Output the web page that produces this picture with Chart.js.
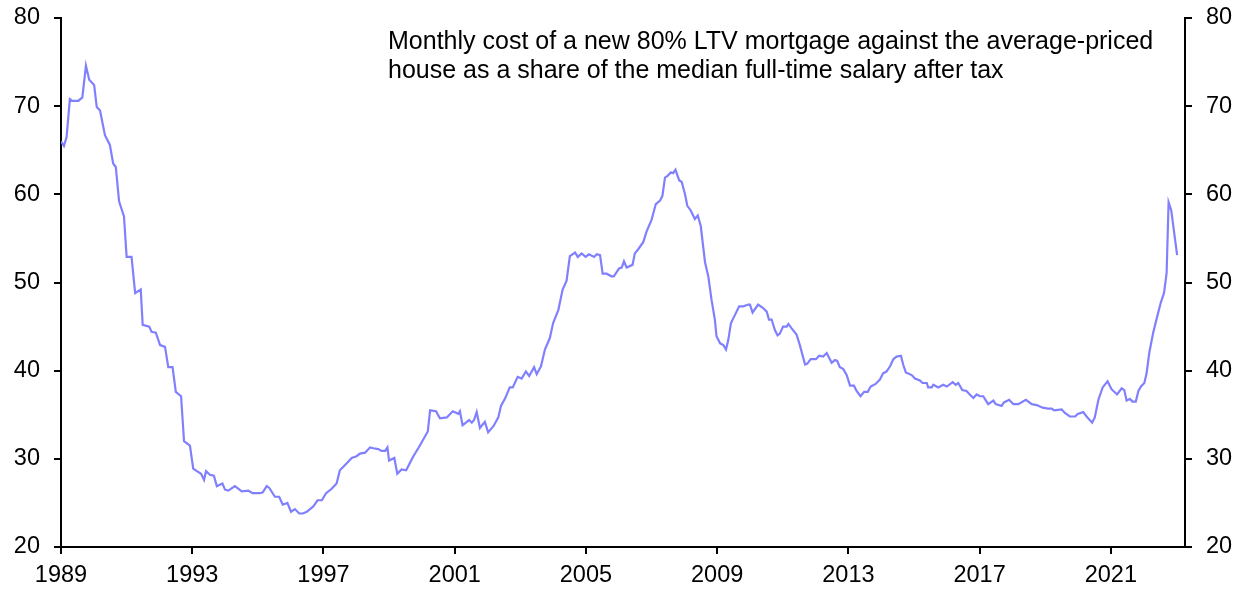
<!DOCTYPE html>
<html>
<head>
<meta charset="utf-8">
<script src="https://cdn.jsdelivr.net/npm/chart.js@4.4.1/dist/chart.umd.min.js"></script>
<style>
  html, body { margin: 0; padding: 0; background: #fff; }
  #wrap { width: 1241px; height: 591px; position: relative; }
</style>
</head>
<body>
<div id="wrap"><canvas id="mortChart"></canvas></div>
<script>
    // values (decimal year, % of salary)
    const years = [
        1989.00, 1989.09, 1989.17, 1989.27, 1989.34, 1989.53, 1989.65, 1989.76, 1989.86, 1990.01,
        1990.09, 1990.19, 1990.34, 1990.49, 1990.59, 1990.67, 1990.77, 1990.92, 1991.00, 1991.15,
        1991.26, 1991.43, 1991.49, 1991.69, 1991.76, 1991.89, 1992.02, 1992.17, 1992.27, 1992.40,
        1992.50, 1992.66, 1992.75, 1992.93, 1993.03, 1993.14, 1993.27, 1993.36, 1993.42, 1993.54,
        1993.66, 1993.75, 1993.92, 1994.00, 1994.10, 1994.30, 1994.51, 1994.71, 1994.84, 1995.07,
        1995.15, 1995.27, 1995.35, 1995.52, 1995.65, 1995.76, 1995.90, 1996.01, 1996.13, 1996.26,
        1996.37, 1996.49, 1996.69, 1996.82, 1996.95, 1997.08, 1997.25, 1997.40, 1997.50, 1997.71,
        1997.86, 1998.01, 1998.11, 1998.27, 1998.42, 1998.52, 1998.67, 1998.77, 1998.88, 1998.95,
        1999.00, 1999.16, 1999.25, 1999.38, 1999.52, 1999.74, 1999.89, 2000.18, 2000.25, 2000.43,
        2000.55, 2000.76, 2000.94, 2001.11, 2001.16, 2001.24, 2001.44, 2001.52, 2001.59, 2001.67,
        2001.77, 2001.92, 2002.02, 2002.18, 2002.33, 2002.41, 2002.53, 2002.68, 2002.77, 2002.92,
        2003.04, 2003.17, 2003.27, 2003.42, 2003.50, 2003.63, 2003.75, 2003.90, 2004.00, 2004.16,
        2004.29, 2004.41, 2004.51, 2004.67, 2004.75, 2004.87, 2004.99, 2005.09, 2005.25, 2005.33,
        2005.43, 2005.51, 2005.63, 2005.78, 2005.85, 2006.01, 2006.09, 2006.16, 2006.24, 2006.42,
        2006.49, 2006.60, 2006.75, 2006.85, 2007.00, 2007.13, 2007.26, 2007.33, 2007.41, 2007.49,
        2007.59, 2007.66, 2007.73, 2007.84, 2007.92, 2008.02, 2008.09, 2008.19, 2008.32, 2008.41,
        2008.50, 2008.63, 2008.73, 2008.83, 2008.93, 2008.98, 2009.09, 2009.19, 2009.27, 2009.34,
        2009.42, 2009.54, 2009.67, 2009.80, 2009.95, 2010.00, 2010.08, 2010.25, 2010.40, 2010.51,
        2010.58, 2010.66, 2010.76, 2010.84, 2010.91, 2011.01, 2011.12, 2011.17, 2011.27, 2011.42,
        2011.52, 2011.68, 2011.75, 2011.85, 2012.01, 2012.11, 2012.23, 2012.34, 2012.49, 2012.59,
        2012.66, 2012.74, 2012.84, 2012.95, 2013.05, 2013.17, 2013.25, 2013.37, 2013.48, 2013.59,
        2013.68, 2013.83, 2013.96, 2014.06, 2014.16, 2014.27, 2014.37, 2014.47, 2014.60, 2014.67,
        2014.75, 2014.93, 2015.03, 2015.18, 2015.26, 2015.39, 2015.43, 2015.54, 2015.59, 2015.74,
        2015.89, 2016.00, 2016.18, 2016.27, 2016.35, 2016.47, 2016.60, 2016.70, 2016.81, 2016.91,
        2017.01, 2017.11, 2017.16, 2017.26, 2017.42, 2017.49, 2017.67, 2017.74, 2017.90, 2018.03,
        2018.18, 2018.41, 2018.59, 2018.74, 2018.92, 2019.09, 2019.20, 2019.27, 2019.50, 2019.60,
        2019.75, 2019.91, 2019.99, 2020.16, 2020.26, 2020.43, 2020.51, 2020.62, 2020.75, 2020.90,
        2021.02, 2021.19, 2021.33, 2021.41, 2021.48, 2021.58, 2021.66, 2021.76, 2021.84, 2021.92,
        2022.02, 2022.09, 2022.17, 2022.29, 2022.41, 2022.52, 2022.62, 2022.70, 2022.76, 2022.84,
        2023.02
    ];
    const costShare = [
        66.0, 65.5, 66.5, 70.8, 70.6, 70.6, 71.0, 74.6, 73.0, 72.4,
        69.9, 69.5, 66.7, 65.6, 63.5, 63.1, 59.2, 57.5, 52.9, 52.9,
        48.8, 49.2, 45.2, 45.0, 44.4, 44.3, 42.9, 42.7, 40.4, 40.4,
        37.6, 37.1, 32.0, 31.5, 28.9, 28.6, 28.3, 27.6, 28.6, 28.2,
        28.1, 26.9, 27.2, 26.5, 26.4, 26.9, 26.3, 26.4, 26.1, 26.1,
        26.2, 26.9, 26.7, 25.7, 25.7, 24.8, 25.0, 24.0, 24.3, 23.8,
        23.8, 24.0, 24.6, 25.3, 25.3, 26.1, 26.6, 27.2, 28.7, 29.5,
        30.1, 30.3, 30.6, 30.7, 31.3, 31.2, 31.1, 30.9, 30.9, 31.3,
        29.8, 30.1, 28.3, 28.8, 28.7, 30.3, 31.2, 33.1, 35.5, 35.4,
        34.6, 34.7, 35.4, 35.1, 35.4, 33.8, 34.4, 34.1, 34.4, 35.3,
        33.5, 34.2, 33.0, 33.7, 34.7, 36.0, 36.8, 38.1, 38.1, 39.3,
        39.1, 39.9, 39.4, 40.4, 39.6, 40.5, 42.4, 43.7, 45.4, 46.9,
        49.2, 50.2, 53.0, 53.4, 52.9, 53.3, 52.9, 53.2, 52.9, 53.2,
        53.1, 51.0, 51.0, 50.7, 50.7, 51.6, 51.7, 52.4, 51.7, 52.0,
        53.3, 53.8, 54.6, 55.8, 57.1, 58.9, 59.3, 59.8, 61.9, 62.1,
        62.5, 62.4, 62.8, 61.6, 61.4, 60.0, 58.7, 58.2, 57.2, 57.6,
        56.4, 52.3, 50.7, 48.0, 45.8, 43.9, 43.1, 42.9, 42.4, 43.5,
        45.4, 46.3, 47.3, 47.3, 47.5, 47.5, 46.6, 47.5, 47.1, 46.7,
        45.8, 45.8, 44.6, 44.0, 44.2, 45.0, 45.0, 45.3, 44.8, 44.1,
        42.9, 40.7, 40.8, 41.3, 41.3, 41.7, 41.6, 42.0, 40.9, 41.2,
        41.1, 40.4, 40.2, 39.5, 38.3, 38.3, 37.7, 37.1, 37.6, 37.6,
        38.2, 38.5, 39.0, 39.7, 39.9, 40.5, 41.3, 41.6, 41.7, 40.7,
        39.8, 39.5, 39.1, 38.9, 38.6, 38.6, 38.1, 38.1, 38.4, 38.1,
        38.4, 38.2, 38.7, 38.4, 38.6, 37.8, 37.7, 37.3, 36.9, 37.3,
        37.1, 37.1, 36.8, 36.2, 36.6, 36.2, 36.0, 36.4, 36.7, 36.2,
        36.2, 36.7, 36.2, 36.1, 35.8, 35.7, 35.7, 35.5, 35.6, 35.2,
        34.8, 34.8, 35.1, 35.3, 34.8, 34.1, 34.7, 36.7, 38.1, 38.8,
        37.9, 37.3, 38.0, 37.8, 36.6, 36.8, 36.5, 36.5, 37.7, 38.2,
        38.6, 39.7, 42.0, 44.3, 46.1, 47.7, 48.8, 51.1, 59.1, 58.2,
        53.1
    ];
    const tickYears = [1989, 1993, 1997, 2001, 2005, 2009, 2013, 2017, 2021];
    const yTicks = [20, 30, 40, 50, 60, 70, 80];
    const noteLines = [
        'Monthly cost of a new 80% LTV mortgage against the average-priced',
        'house as a share of the median full-time salary after tax'
    ];

    const FONT = "'Liberation Sans', Arial, sans-serif";

    // note text in the top middle of the plot
    const notePlugin = {
        id: 'note',
        afterDraw(chart) {
            const ctx = chart.ctx;
            ctx.save();
            ctx.fillStyle = '#000';
            ctx.font = '25px ' + FONT;
            ctx.textBaseline = 'middle';
            noteLines.forEach((t, i) => ctx.fillText(t, 388, 42 + i * 29));
            ctx.restore();
        }
    };

    const axisLook = {
        grid: { display: true, drawOnChartArea: false, drawTicks: true, tickLength: 7, color: '#000', lineWidth: 2 },
        border: { display: true, color: '#000', width: 2 }
    };
    const tickFont = { family: FONT, size: 23.5 };

    // fixed axis sizes, no extra padding from the labels
    const fitY = (w) => (s) => { s.width = w; s.paddingTop = 0; s.paddingBottom = 0; };

    new Chart(document.getElementById('mortChart'), {
        type: 'line',
        data: {
            datasets: [{
                data: years.map((x, i) => ({ x: x, y: costShare[i] })),
                borderColor: 'rgb(128,128,255)',
                borderWidth: 2.2,
                pointRadius: 0,
                tension: 0,
                fill: false
            }]
        },
        options: {
            responsive: true,
            maintainAspectRatio: false,
            animation: false,
            layout: { padding: { top: 18, left: 0, right: 0, bottom: 0 } },
            plugins: { legend: { display: false }, tooltip: { enabled: false } },
            scales: {
                x: {
                    type: 'linear',
                    min: 1989,
                    max: 2023.26,
                    ...axisLook,
                    afterBuildTicks: (s) => { s.ticks = tickYears.map(v => ({ value: v })); },
                    afterFit: (s) => { s.height = 44; s.paddingLeft = 0; s.paddingRight = 0; },
                    ticks: { color: '#000', font: tickFont, padding: 7, maxRotation: 0, autoSkip: false,
                             callback: (v) => String(v) }
                },
                y: {
                    position: 'left',
                    min: 20, max: 80,
                    ...axisLook,
                    afterBuildTicks: (s) => { s.ticks = yTicks.map(v => ({ value: v })); },
                    afterFit: fitY(61),
                    ticks: { color: '#000', font: tickFont, padding: 14 }
                },
                y2: {
                    position: 'right',
                    min: 20, max: 80,
                    ...axisLook,
                    afterBuildTicks: (s) => { s.ticks = yTicks.map(v => ({ value: v })); },
                    afterFit: fitY(56),
                    ticks: { color: '#000', font: tickFont, padding: 14 }
                }
            }
        },
        plugins: [notePlugin]
    });
</script>
</body>
</html>
